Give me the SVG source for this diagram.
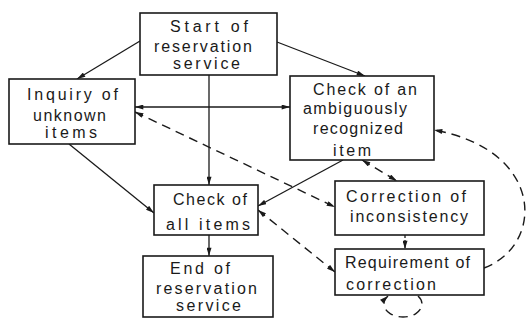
<svg xmlns="http://www.w3.org/2000/svg" width="526" height="324" viewBox="0 0 526 324">
<style>
.box{fill:#fff;stroke:#1a1a1a;stroke-width:1.6}
.t{font-family:"Liberation Sans",Arial,sans-serif;font-size:16px;fill:#1a1a1a}
.c{fill:none;stroke:#1a1a1a;stroke-width:1.3}
.d{fill:none;stroke:#1a1a1a;stroke-width:1.4;stroke-dasharray:9 6}
</style>
<defs>
<marker id="a" viewBox="0 0 10 6" refX="10" refY="3" markerWidth="9" markerHeight="5" markerUnits="userSpaceOnUse" orient="auto-start-reverse">
<path d="M0,0 L10,3 L0,6 z" fill="#1a1a1a"/>
</marker>
</defs>
<rect width="526" height="324" fill="#fff"/>
<g id="connectors">
<line class="c" x1="140" y1="41" x2="77" y2="79" marker-end="url(#a)"/>
<line class="c" x1="277" y1="42" x2="365" y2="76" marker-end="url(#a)"/>
<line class="c" x1="209" y1="75" x2="209" y2="185" marker-end="url(#a)"/>
<line class="c" x1="209" y1="235" x2="209" y2="256" marker-end="url(#a)"/>
<line class="c" x1="135" y1="107" x2="290" y2="107" marker-start="url(#a)" marker-end="url(#a)"/>
<line class="c" x1="69" y1="144" x2="154" y2="213" marker-end="url(#a)"/>
<line class="c" x1="343" y1="160" x2="258" y2="206" marker-end="url(#a)"/>
<line class="d" x1="362" y1="160" x2="397" y2="181" marker-start="url(#a)" marker-end="url(#a)"/>
<line class="d" x1="135" y1="112" x2="335" y2="207" marker-start="url(#a)" marker-end="url(#a)"/>
<line class="d" x1="258" y1="210" x2="335" y2="272" marker-start="url(#a)" marker-end="url(#a)"/>
<line class="c" x1="405" y1="235" x2="405" y2="249" stroke-dasharray="3 2" marker-end="url(#a)"/>
<path class="d" d="M484 268 C545 245 545 150 434 130" marker-end="url(#a)"/>
<path class="d" d="M388 296 A19 13 0 1 0 418 296" marker-start="url(#a)"/>
</g>
<g id="start">
<rect class="box" x="140" y="13" width="137" height="62"/>
<text class="t" x="170" y="32" textLength="78" lengthAdjust="spacing">Start of</text>
<text class="t" x="154" y="52" textLength="98" lengthAdjust="spacing">reservation</text>
<text class="t" x="173" y="69" textLength="67" lengthAdjust="spacing">service</text>
</g>
<g id="inquiry">
<rect class="box" x="9" y="79" width="126" height="65"/>
<text class="t" x="27" y="100" textLength="91" lengthAdjust="spacing">Inquiry of</text>
<text class="t" x="33" y="121" textLength="73" lengthAdjust="spacing">unknown</text>
<text class="t" x="45" y="138" textLength="52" lengthAdjust="spacing">items</text>
</g>
<g id="ambiguous">
<rect class="box" x="290" y="76" width="144" height="84"/>
<text class="t" x="313" y="95" textLength="104" lengthAdjust="spacing">Check of an</text>
<text class="t" x="303" y="114" textLength="104" lengthAdjust="spacing">ambiguously</text>
<text class="t" x="313" y="134" textLength="90" lengthAdjust="spacing">recognized</text>
<text class="t" x="333" y="156" textLength="38" lengthAdjust="spacing">item</text>
</g>
<g id="checkall">
<rect class="box" x="154" y="185" width="104" height="50"/>
<text class="t" x="173" y="205" textLength="74" lengthAdjust="spacing">Check of</text>
<text class="t" x="166" y="230" textLength="84" lengthAdjust="spacing">all items</text>
</g>
<g id="end">
<rect class="box" x="143" y="256" width="130" height="61"/>
<text class="t" x="170" y="274" textLength="60" lengthAdjust="spacing">End of</text>
<text class="t" x="156" y="294" textLength="101" lengthAdjust="spacing">reservation</text>
<text class="t" x="176" y="311" textLength="65" lengthAdjust="spacing">service</text>
</g>
<g id="correction">
<rect class="box" x="335" y="181" width="149" height="54"/>
<text class="t" x="346" y="202" textLength="120" lengthAdjust="spacing">Correction of</text>
<text class="t" x="350" y="222" textLength="118" lengthAdjust="spacing">inconsistency</text>
</g>
<g id="requirement">
<rect class="box" x="335" y="249" width="149" height="46"/>
<text class="t" x="345" y="268" textLength="125" lengthAdjust="spacing">Requirement of</text>
<text class="t" x="346" y="290" textLength="90" lengthAdjust="spacing">correction</text>
</g>
</svg>
